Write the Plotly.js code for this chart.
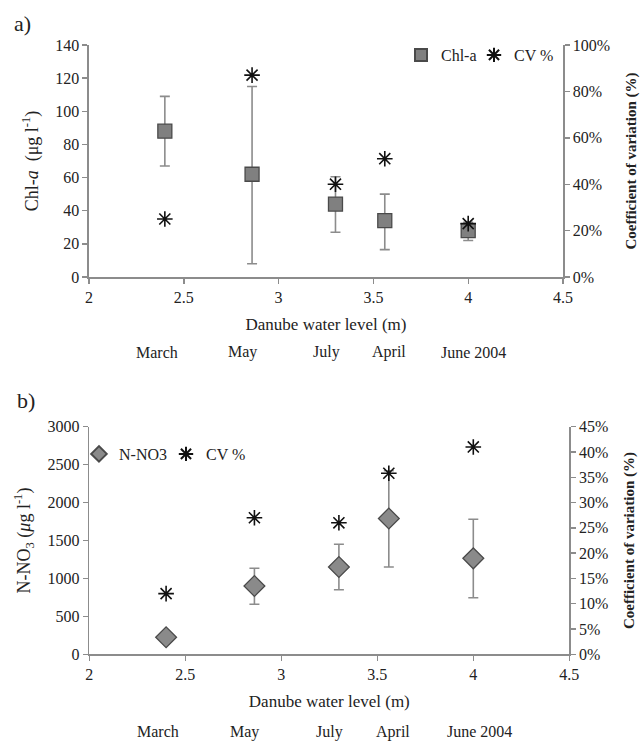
<!DOCTYPE html>
<html>
<head>
<meta charset="utf-8">
<script src="https://cdn.plot.ly/plotly-3.0.1.min.js"></script>
<style>html,body{margin:0;padding:0;background:#fff;}#chart{width:641px;height:741px;}</style>
</head>
<body>
<div id="chart"></div>
<script>
// ---- Data ----
var months = ["March", "May", "July", "April", "June 2004"];
var monthPos = [2.36, 2.81, 3.25, 3.58, 4.03];

// Panel a: Chl-a
var levelA = [2.40, 2.86, 3.30, 3.56, 4.00];
var chlMean = [88, 62, 44, 34, 28];
var chlUpper = [109, 115, 60.5, 50, 33];
var chlLower = [67, 8, 27, 16.5, 22];
var cvA = [0.25, 0.87, 0.40, 0.51, 0.23];

// Panel b: N-NO3
var levelB = [2.40, 2.86, 3.30, 3.56, 4.00];
var no3Mean = [225, 900, 1150, 1790, 1265];
var no3Upper = [225, 1135, 1450, 2420, 1780];
var no3Lower = [225, 660, 850, 1150, 745];
var cvB = [0.12, 0.27, 0.26, 0.358, 0.41];

function diff(a, b) { return a.map(function (v, i) { return v - b[i]; }); }

var W = 641, H = 741;
var FONT = "Liberation Serif";
var axisCol = "#8c8c8c";
var txtCol = "#222";
var errStyle = function (up, lo) {
  return { type: "data", symmetric: false, array: up, arrayminus: lo,
           color: "#8c8c8c", thickness: 1.6, width: 5 };
};

var traces = [
  { x: levelA, y: chlMean, name: "Chl-a", type: "scatter", mode: "markers",
    xaxis: "x", yaxis: "y", legend: "legend", legendwidth: 28,
    marker: { symbol: "square", size: 14, color: "#808080", line: { color: "#4a4a4a", width: 1.3 } },
    error_y: errStyle(diff(chlUpper, chlMean), diff(chlMean, chlLower)) },
  { x: levelA, y: cvA, name: "CV %", type: "scatter", mode: "markers",
    xaxis: "x", yaxis: "y2", legend: "legend", legendwidth: 50,
    marker: { symbol: "asterisk-open", size: 13, color: "#111", line: { color: "#111", width: 1.6 } } },
  { x: levelB, y: no3Mean, name: "N-NO3", type: "scatter", mode: "markers",
    xaxis: "x2", yaxis: "y3", legend: "legend2", legendwidth: 42,
    marker: { symbol: "diamond", size: 16, color: "#8a8a8a", line: { color: "#4a4a4a", width: 1.3 } },
    error_y: errStyle(diff(no3Upper, no3Mean), diff(no3Mean, no3Lower)) },
  { x: levelB, y: cvB, name: "CV %", type: "scatter", mode: "markers",
    xaxis: "x2", yaxis: "y4", legend: "legend2", legendwidth: 50,
    marker: { symbol: "asterisk-open", size: 13, color: "#111", line: { color: "#111", width: 1.6 } } }
];

var tickFont = { family: FONT, size: 16, color: txtCol };
var titleFont = { family: FONT, size: 17, color: txtCol };
var yTitleFont = { family: FONT, size: 18, color: txtCol };
var rightTitleFont = { family: FONT, size: 15, color: txtCol, weight: "bold" };

function xAx(domain, anchor) {
  return { domain: domain, anchor: anchor, range: [2, 4.5], dtick: 0.5, tick0: 2,
    showline: true, linecolor: axisCol, linewidth: 1.6, ticks: "outside", ticklen: 5,
    tickcolor: axisCol, tickwidth: 1.4, showgrid: false, zeroline: false, tickfont: tickFont,
    title: { text: "Danube water level (m)", font: titleFont, standoff: 13 } };
}
function yAx(domain, anchor, range, dtick, title) {
  return { domain: domain, anchor: anchor, range: range, dtick: dtick,
    showline: true, linecolor: axisCol, linewidth: 1.6, ticks: "outside", ticklen: 5,
    tickcolor: axisCol, tickwidth: 1.4, showgrid: false, zeroline: false, tickfont: tickFont,
    title: { text: title, font: yTitleFont, standoff: 12 } };
}
function yRight(overlay, anchor, range, dtick) {
  return { overlaying: overlay, anchor: anchor, side: "right", range: range, dtick: dtick,
    tickformat: ".0%", showline: true, linecolor: axisCol, linewidth: 1.6, ticks: "outside",
    ticklen: 5, tickcolor: axisCol, tickwidth: 1.4, showgrid: false, zeroline: false,
    tickfont: tickFont,
    title: { text: "Coefficient of variation (%)", font: rightTitleFont, standoff: 16 } };
}

var xa = [89 / W, 563 / W];
var xb = [89.3 / W, 569.3 / W];
var ya = [1 - 277 / H, 1 - 45 / H];
var yb = [1 - 654.3 / H, 1 - 426.7 / H];

var annotations = [
  { text: "a)", xref: "paper", yref: "paper", x: 22 / W, y: 1 - 24 / H, showarrow: false,
    xanchor: "center", yanchor: "middle", font: { family: FONT, size: 22, color: txtCol } },
  { text: "b)", xref: "paper", yref: "paper", x: 26 / W, y: 1 - 400 / H, showarrow: false,
    xanchor: "center", yanchor: "middle", font: { family: FONT, size: 22, color: txtCol } }
];
months.forEach(function (m, i) {
  annotations.push({ text: m, xref: "x", yref: "paper", x: monthPos[i], y: 1 - 352 / H,
    xanchor: "center", yanchor: "middle",
    showarrow: false, font: { family: FONT, size: 16, color: txtCol } });
  annotations.push({ text: m, xref: "x2", yref: "paper", x: monthPos[i], y: 1 - 731.6 / H,
    xanchor: "center", yanchor: "middle",
    showarrow: false, font: { family: FONT, size: 16, color: txtCol } });
});

var layout = {
  width: W, height: H, autosize: false,
  margin: { l: 0, r: 0, t: 0, b: 0 },
  paper_bgcolor: "#fff", plot_bgcolor: "#fff",
  font: { family: FONT, color: txtCol },
  xaxis: xAx(xa, "y"),
  yaxis: yAx(ya, "x", [0, 140], 20, "Chl-<i>a</i>  (μg l<sup>-1</sup>)"),
  yaxis2: yRight("y", "x", [0, 1], 0.2),
  xaxis2: xAx(xb, "y3"),
  yaxis3: yAx(yb, "x2", [0, 3000], 500, "N-NO<sub>3</sub> (<i>μ</i>g l<sup>-1</sup>)"),
  yaxis4: yRight("y3", "x2", [0, 0.45], 0.05),
  legend: { orientation: "h", x: 401 / W, y: 1 - 55 / H, xanchor: "left", yanchor: "middle",
    font: { family: FONT, size: 16, color: txtCol }, bgcolor: "rgba(0,0,0,0)",
    itemwidth: 30, tracegroupgap: 0, itemsizing: "constant", entrywidthmode: "pixels" },
  legend2: { orientation: "h", x: 79 / W, y: 1 - 454 / H, xanchor: "left", yanchor: "middle",
    font: { family: FONT, size: 16, color: txtCol }, bgcolor: "rgba(0,0,0,0)",
    itemwidth: 30, tracegroupgap: 0, itemsizing: "constant", entrywidthmode: "pixels" },
  annotations: annotations
};

Plotly.newPlot("chart", traces, layout, { displayModeBar: false, staticPlot: true });
</script>
</body>
</html>
